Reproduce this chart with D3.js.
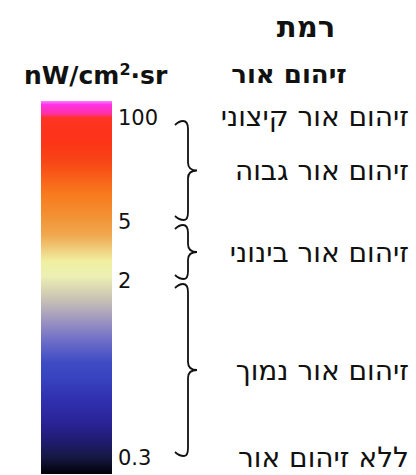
<!DOCTYPE html>
<html>
<head>
<meta charset="utf-8">
<script src="https://cdn.jsdelivr.net/npm/d3@7"></script>
<style>
  body { margin: 0; background: #fff; }
  text { font-family: "DejaVu Sans", Verdana, sans-serif; fill: #111; }
</style>
</head>
<body>
<svg class="legend"></svg>
<script>
var width = 416, height = 475;

// radiance ticks (nW/cm2·sr) shown beside the colour bar
var tickValues = [100, 5, 2, 0.3];
// light pollution levels
var levels = ['זיהום אור קיצוני', 'זיהום אור גבוה', 'זיהום אור בינוני', 'זיהום אור נמוך', 'ללא זיהום אור'];
// ranges covered by braces: [upper, lower]
var ranges = [[100, 5], [5, 2], [2, 0.3]];

// colour bar palette, top to bottom
var palette = [
  [0.00, '#ff80ff'], [0.01, '#ff30e8'], [0.035, '#ff30a0'], [0.045, '#ff3322'],
  [0.11, '#fc3418'], [0.16, '#f84416'], [0.20, '#f85c18'], [0.25, '#f87a1e'],
  [0.31, '#f29234'], [0.36, '#f0a850'], [0.40, '#f0d080'], [0.43, '#f0f0a0'],
  [0.47, '#ecf0b4'], [0.51, '#d6d2b2'], [0.55, '#bcb4b8'], [0.59, '#9c94c0'],
  [0.645, '#6c6cc8'], [0.70, '#3e4cc4'], [0.74, '#3844c0'], [0.80, '#3030b0'],
  [0.86, '#2a2498'], [0.91, '#201c72'], [0.955, '#161842'], [1.00, '#000008']
];

var bar = { x: 41, y: 101, w: 71, h: 373 };

var svg = d3.select('svg.legend').attr('width', width).attr('height', height);

// piecewise scale along the bar
var y = d3.scaleLinear()
    .domain(tickValues)
    .range([118, 222, 281, 458]);

var grad = svg.append('defs').append('linearGradient')
    .attr('id', 'bar')
    .attr('x1', 0).attr('y1', 0).attr('x2', 0).attr('y2', 1);
grad.selectAll('stop')
    .data(palette)
    .enter()
    .append('stop')
    .attr('offset', function(d) { return d[0]; })
    .attr('stop-color', function(d) { return d[1]; });

svg.append('rect')
    .attr('x', bar.x).attr('y', bar.y)
    .attr('width', bar.w).attr('height', bar.h)
    .attr('fill', 'url(#bar)');

// tick labels
var axis = svg.append('g')
    .attr('transform', 'translate(' + (bar.x + bar.w) + ',0)')
    .call(d3.axisRight(y).tickValues(tickValues).tickSize(0).tickPadding(6)
      .tickFormat(function(d) { return String(d); }));
axis.select('.domain').remove();
axis.selectAll('text')
    .attr('font-family', '"DejaVu Sans", Verdana, sans-serif')
    .attr('font-size', 21)
    .attr('fill', '#111');

// titles
var unit = svg.append('text')
    .attr('x', 24).attr('y', 84)
    .attr('font-size', 25).attr('font-weight', 'bold');
unit.append('tspan').text('nW/cm');
unit.append('tspan').attr('dy', -9).attr('font-size', 16).text('2');
unit.append('tspan').attr('dy', 9).text('·sr');

svg.append('text')
    .attr('x', 306).attr('y', 37)
    .attr('text-anchor', 'middle')
    .attr('font-size', 29).attr('font-weight', 'bold')
    .text('רמת');
svg.append('text')
    .attr('x', 289).attr('y', 83)
    .attr('text-anchor', 'middle')
    .attr('font-size', 26).attr('font-weight', 'bold')
    .text('זיהום אור');

// braces
function brace(y0, y1) {
  var x0 = 175, xv = 188, xt = 197, ym = (y0 + y1) / 2;
  return 'M' + x0 + ',' + (y0 + 4) +
    'Q' + (x0 + 4) + ',' + y0 + ',' + (x0 + 8) + ',' + y0 +
    'Q' + xv + ',' + y0 + ',' + xv + ',' + (y0 + 8) +
    'L' + xv + ',' + (ym - 8) +
    'Q' + xv + ',' + ym + ',' + xt + ',' + ym +
    'Q' + xv + ',' + ym + ',' + xv + ',' + (ym + 8) +
    'L' + xv + ',' + (y1 - 8) +
    'Q' + xv + ',' + y1 + ',' + (xv - 4) + ',' + y1 +
    'Q' + (x0 + 4) + ',' + y1 + ',' + x0 + ',' + (y1 - 4);
}

svg.append('g')
    .selectAll('path')
    .data(ranges)
    .enter()
    .append('path')
    .attr('d', function(d) { return brace(y(d[0]) + 3, y(d[1]) - 2); })
    .attr('fill', 'none')
    .attr('stroke', '#111')
    .attr('stroke-width', 1.8);

// level labels: extreme at top tick, one per brace, none at bottom tick
var labelPos = [y(tickValues[0])]
    .concat(ranges.map(function(d) { return (y(d[0]) + y(d[1])) / 2 + 2; }))
    .concat([y(tickValues[tickValues.length - 1]) + 1]);

svg.append('g')
    .selectAll('text')
    .data(levels)
    .enter()
    .append('text')
    .attr('x', 409)
    .attr('y', function(d, i) { return labelPos[i]; })
    .attr('dy', '0.3em')
    .attr('text-anchor', 'end')
    .attr('font-size', 28)
    .text(function(d) { return d; });
</script>
</body>
</html>
